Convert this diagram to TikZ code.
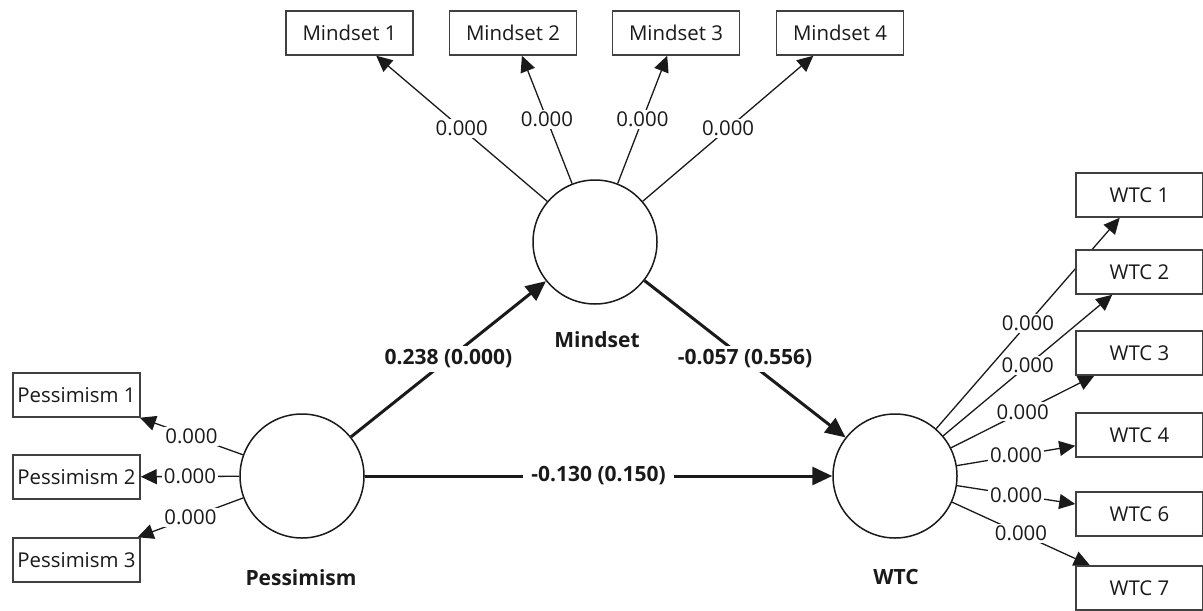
\documentclass[tikz,border=0pt]{standalone}
\usepackage{fontspec}
\setmainfont{Open Sans}
\usetikzlibrary{arrows.meta}
\pgfdeclarelayer{bg}
\pgfsetlayers{bg,main}
\definecolor{ink}{HTML}{1A1A1A}
\definecolor{boxline}{HTML}{404040}
\begin{document}
\begin{tikzpicture}[x=0.5pt,y=-0.5pt,
  ind/.style={draw=boxline, line width=0.75pt, fill=white, minimum width=63.5pt, minimum height=22pt, inner sep=0pt, font=\fontsize{10.2}{12}\selectfont, text=ink},
  lat/.style={circle, draw=ink, line width=0.75pt, fill=white, minimum size=62pt, inner sep=0pt},
  latname/.style={font=\fontsize{10.5}{12}\selectfont\bfseries, text=ink},
  load/.style={draw=ink, line width=0.65pt, -{Triangle[length=8pt,width=7.5pt]}},
  struct/.style={draw=ink, line width=1.5pt, -{Triangle[length=10pt,width=9pt]}},
  lv/.style={fill=white, inner sep=1pt, font=\fontsize{10.2}{12}\selectfont, text=ink},
  sv/.style={fill=white, inner xsep=4pt, inner ysep=2pt, font=\fontsize{10.5}{12}\selectfont\bfseries, text=ink}
]
\useasboundingbox (0,0) rectangle (1203,610);

% latent variables
\node[lat] (ms) at (595,242) {};
\node[lat] (pe) at (302,476) {};
\node[lat] (wt) at (895,476) {};
\node[latname] (msl) at (597,340) {Mindset};
\node[latname] (pel) at (301,578) {Pessimism};
\node[latname] (wtl) at (896,577) {WTC};

% indicators
\node[ind] (m1) at (349.5,33) {Mindset 1};
\node[ind] (m2) at (513,33) {Mindset 2};
\node[ind] (m3) at (676,33) {Mindset 3};
\node[ind] (m4) at (840,33) {Mindset 4};

\node[ind] (p1) at (76.5,395) {Pessimism 1};
\node[ind] (p2) at (76.5,477) {Pessimism 2};
\node[ind] (p3) at (76.5,560) {Pessimism 3};

\node[ind] (w1) at (1139.5,195) {WTC 1};
\node[ind] (w2) at (1139.5,272) {WTC 2};
\node[ind] (w3) at (1139.5,353) {WTC 3};
\node[ind] (w4) at (1139.5,435) {WTC 4};
\node[ind] (w6) at (1139.5,514) {WTC 6};
\node[ind] (w7) at (1139.5,588) {WTC 7};

\begin{pgfonlayer}{bg}
\draw[load] (ms) -- node[lv]{0.000} (m1);
\draw[load] (ms) -- node[lv]{0.000} (m2);
\draw[load] (ms) -- node[lv]{0.000} (m3);
\draw[load] (ms) -- node[lv]{0.000} (m4);

\draw[load] (pe) -- node[lv]{0.000} (p1);
\draw[load] (pe) -- node[lv]{0.000} (p2);
\draw[load] (pe) -- node[lv]{0.000} (p3);

\draw[load] (wt) -- node[lv]{0.000} (w1);
\draw[load] (wt) -- node[lv]{0.000} (w2);
\draw[load] (wt) -- node[lv]{0.000} (w3);
\draw[load] (wt) -- node[lv]{0.000} (w4);
\draw[load] (wt) -- node[lv]{0.000} (w6);
\draw[load] (wt) -- node[lv]{0.000} (w7);

\draw[struct] (pe) -- node[sv]{0.238 (0.000)} (ms);
\draw[struct] (ms) -- node[sv]{-0.057 (0.556)} (wt);
\draw[struct] (pe) -- node[sv]{-0.130 (0.150)} (wt);
\end{pgfonlayer}
\end{tikzpicture}
\end{document}
